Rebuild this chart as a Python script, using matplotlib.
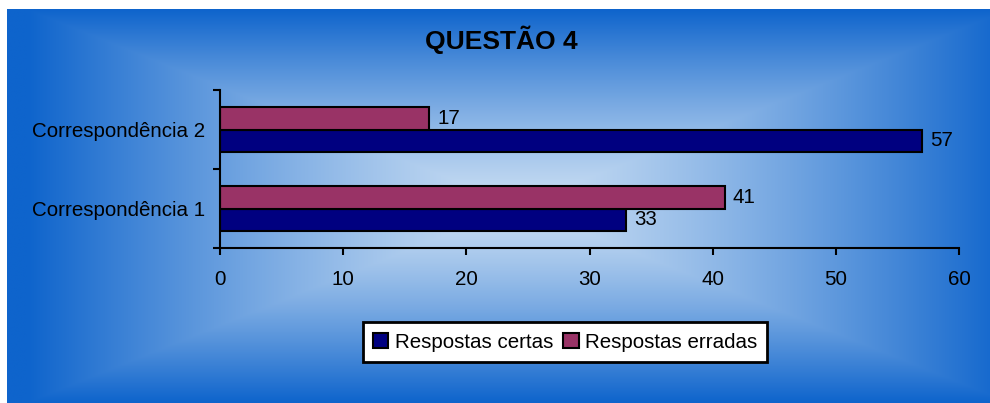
import numpy as np
import matplotlib
matplotlib.use("Agg")
import matplotlib.pyplot as plt
from matplotlib.ticker import FixedLocator, NullFormatter

plt.rcParams['font.family'] = ['Liberation Sans', 'DejaVu Sans']

# Data
categories = ["Correspondência 1", "Correspondência 2"]
certas = [33, 57]
erradas = [41, 17]
series_names = ["Respostas certas", "Respostas erradas"]
x_ticks = [0, 10, 20, 30, 40, 50, 60]
title = "QUESTÃO 4"

W, H = 990, 403
fig = plt.figure(figsize=(W / 100, H / 100), dpi=100, facecolor="white")

# Background panel with a rectangular gradient, light in the middle, blue at the rim
bg = fig.add_axes([0, 0, 1, 1], zorder=-10)
bg.set_xlim(0, W)
bg.set_ylim(H, 0)
bg.axis("off")
x0, x1, y0, y1 = 7, 990, 9, 403
gx = np.linspace(x0, x1, 600)
gy = np.linspace(y0, y1, 300)
XX, YY = np.meshgrid(gx, gy)
cx, cy = (x0 + x1) / 2 + 20, (y0 + y1) / 2
t = np.maximum(np.abs(XX - cx) / ((x1 - x0) / 2), np.abs(YY - cy) / ((y1 - y0) / 2))
t = np.clip(t, 0, 1) ** 1.3
center = np.array([200, 221, 243]) / 255
edge = np.array([14, 100, 204]) / 255
img = center[None, None, :] * (1 - t[..., None]) + edge[None, None, :] * t[..., None]
bg.imshow(img, extent=(x0, x1, y1, y0), aspect="auto", interpolation="bilinear")

# Plot area
ax = fig.add_axes([220 / W, 1 - 248 / H, (959 - 220) / W, (248 - 90) / H])
ax.patch.set_alpha(0)

ypos = np.arange(len(categories))
h = 0.28
col_certas = "#000080"
col_erradas = "#993366"
b1 = ax.barh(ypos - h / 2, certas, height=h, color=col_certas, edgecolor="black",
             linewidth=1.5, label=series_names[0])
b2 = ax.barh(ypos + h / 2, erradas, height=h, color=col_erradas, edgecolor="black",
             linewidth=1.5, label=series_names[1])

fs = 14.8
for bars, vals in ((b1, certas), (b2, erradas)):
    for bar, v in zip(bars, vals):
        ax.annotate(str(v), (v, bar.get_y() + bar.get_height() / 2),
                    xytext=(5.5, 0), textcoords="offset points",
                    ha="left", va="center", fontsize=fs, color="black")

ax.set_xlim(0, 60)
ax.set_ylim(-0.5, len(categories) - 0.5)
ax.set_xticks(x_ticks)
ax.set_xticklabels([str(v) for v in x_ticks])
ax.tick_params(axis="x", direction="out", length=5, width=1.5, pad=11, labelsize=fs)

ax.yaxis.set_major_locator(FixedLocator(np.arange(-0.5, len(categories), 1.0)))
ax.yaxis.set_major_formatter(NullFormatter())
ax.yaxis.set_minor_locator(FixedLocator(ypos))
ax.set_yticklabels(categories, minor=True)
ax.tick_params(axis="y", which="major", direction="out", length=5, width=1.5)
ax.tick_params(axis="y", which="minor", length=0, pad=11, labelsize=fs)

for s in ("top", "right"):
    ax.spines[s].set_visible(False)
for s in ("left", "bottom"):
    ax.spines[s].set_linewidth(1.5)

fig.text(501 / W, 1 - 40 / H, title, ha="center", va="center",
         fontsize=19, fontweight="bold", color="black")

leg = fig.legend(handles=[b1, b2], labels=series_names, loc="center",
                 bbox_to_anchor=(565 / W, 1 - 342 / H), ncol=2, fontsize=fs,
                 frameon=True, fancybox=False, handlelength=0.75, handleheight=0.75,
                 handletextpad=0.3, columnspacing=0.5, borderpad=0.5)
leg.get_frame().set_edgecolor("black")
leg.get_frame().set_linewidth(2)
leg.get_frame().set_facecolor("white")
leg.get_frame().set_alpha(1)

fig.savefig("out.png", dpi=100, facecolor="white")
